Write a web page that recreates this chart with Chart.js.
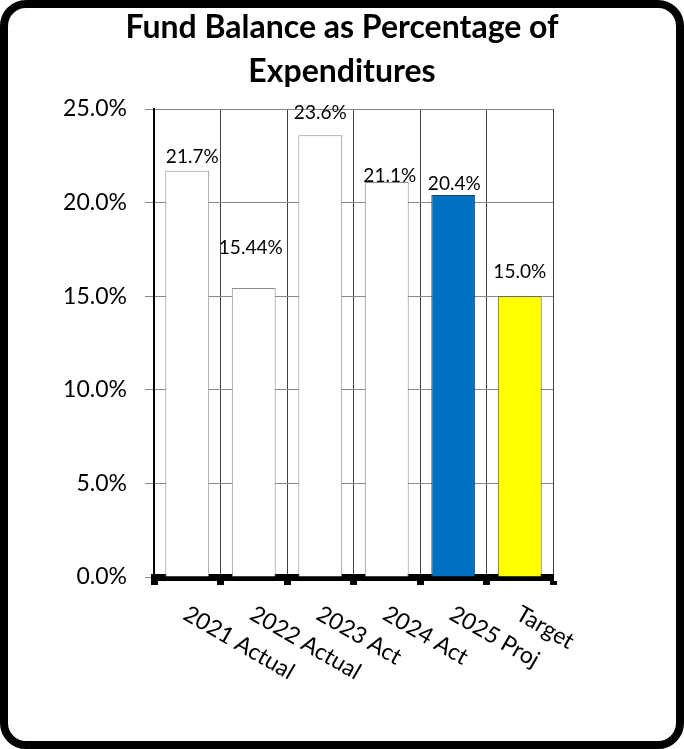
<!DOCTYPE html>
<html>
<head>
<meta charset="utf-8">
<script src="https://cdn.jsdelivr.net/npm/chart.js@4/dist/chart.umd.min.js"></script>
<style>
  html, body { margin: 0; padding: 0; background: #ffffff; }
  #wrap { position: relative; width: 684px; height: 749px; overflow: hidden; }
  #c { position: absolute; left: 0; top: 0; }
  #frame { position: absolute; left: 0; top: 0; width: 684px; height: 749px; box-sizing: border-box;
           border: 8px solid #000; border-radius: 26px; pointer-events: none; }
</style>
</head>
<body>
<div id="wrap">
  <canvas id="c" width="684" height="749"></canvas>
  <div id="frame"></div>
</div>
<script>
const categories = ['2021 Actual', '2022 Actual', '2023 Act', '2024 Act', '2025 Proj', 'Target'];
const fundBalancePct = [21.7, 15.44, 23.6, 21.1, 20.4, 15.0];
const yTickValues = [0, 5, 10, 15, 20, 25];

function fmtPct(v) {
  const tenths = v * 10;
  const dec = Math.abs(Math.round(tenths) - tenths) > 1e-6 ? 2 : 1;
  return v.toFixed(dec) + '%';
}

const FONT = 'Lato, "Open Sans", sans-serif';

const valueLabelPlugin = {
  id: 'valueLabels',
  afterDatasetsDraw(chart, args, opts) {
    const ctx = chart.ctx;
    const meta = chart.getDatasetMeta(0);
    ctx.save();
    ctx.font = '19px ' + FONT;
    ctx.fillStyle = '#000';
    ctx.textAlign = 'center';
    ctx.textBaseline = 'middle';
    meta.data.forEach((bar, i) => {
      const v = chart.data.datasets[0].data[i];
      ctx.fillText(fmtPct(v), bar.x + (opts.dx[i] || 0), bar.y - (opts.dy[i] || 14));
    });
    ctx.restore();
  }
};

const slantedLabelsPlugin = {
  id: 'slantedLabels',
  afterDraw(chart, args, opts) {
    const ctx = chart.ctx;
    const xs = chart.scales.x;
    ctx.save();
    ctx.font = '23px ' + FONT;
    ctx.fillStyle = '#000';
    ctx.textAlign = 'left';
    ctx.textBaseline = 'top';
    chart.data.labels.forEach((lab, i) => {
      const cx = xs.getPixelForValue(i);
      ctx.save();
      ctx.translate(cx + 4, chart.chartArea.bottom + 25);
      ctx.rotate(30 * Math.PI / 180);
      ctx.fillText(lab, 0, 0);
      ctx.restore();
    });
    ctx.restore();
  }
};

new Chart(document.getElementById('c'), {
  type: 'bar',
  data: {
    labels: categories,
    datasets: [{
      data: fundBalancePct,
      backgroundColor: ['#ffffff', '#ffffff', '#ffffff', '#ffffff', '#0070C0', '#FFFF00'],
      borderColor: ['#8c8c8c', '#8c8c8c', '#8c8c8c', '#8c8c8c', '#2a3f5a', '#5a5a20'],
      borderWidth: 1,
      borderSkipped: 'bottom',
      categoryPercentage: 1.0,
      barPercentage: 0.66
    }]
  },
  plugins: [valueLabelPlugin, slantedLabelsPlugin],
  options: {
    responsive: false,
    animation: false,
    devicePixelRatio: 1,
    layout: { padding: { left: 0, right: 0, top: 0, bottom: 0 } },
    plugins: {
      legend: { display: false },
      tooltip: { enabled: false },
      title: {
        display: true,
        text: ['Fund Balance as Percentage of', 'Expenditures'],
        color: '#000',
        font: { family: FONT, size: 32, weight: 'bold', lineHeight: 44 / 32 },
        padding: { top: 6, bottom: 15 }
      },
      valueLabels: {
        dy: [14, 40, 22, 6, 11, 24],
        dx: [5, -3, 0, 3, 1, 0]
      }
    },
    scales: {
      x: {
        z: 1,
        offset: true,
        grid: {
          offset: true,
          color: '#404040',
          lineWidth: 1,
          drawTicks: true,
          tickLength: 8,
          tickWidth: 7,
          tickColor: '#000'
        },
        border: { display: true, color: '#000', width: 7 },
        ticks: { display: false },
        afterFit(scale) { scale.height = 172; }
      },
      y: {
        min: 0,
        max: 25,
        afterBuildTicks(scale) { scale.ticks = yTickValues.map(v => ({ value: v })); },
        grid: {
          color: '#8a8a8a',
          lineWidth: 1,
          tickLength: 9,
          tickColor: '#8a8a8a'
        },
        border: { display: true, color: '#000', width: 2 },
        ticks: {
          color: '#000',
          padding: 18,
          font: { family: FONT, size: 23 },
          callback: v => v.toFixed(1) + '%'
        },
        afterFit(scale) { scale.width = 154; }
      },
      spacer: {
        type: 'linear',
        position: 'right',
        display: true,
        grid: { display: false, drawTicks: false },
        border: { display: false },
        ticks: { display: false },
        afterFit(scale) { scale.width = 131; }
      }
    }
  }
});
</script>
</body>
</html>
